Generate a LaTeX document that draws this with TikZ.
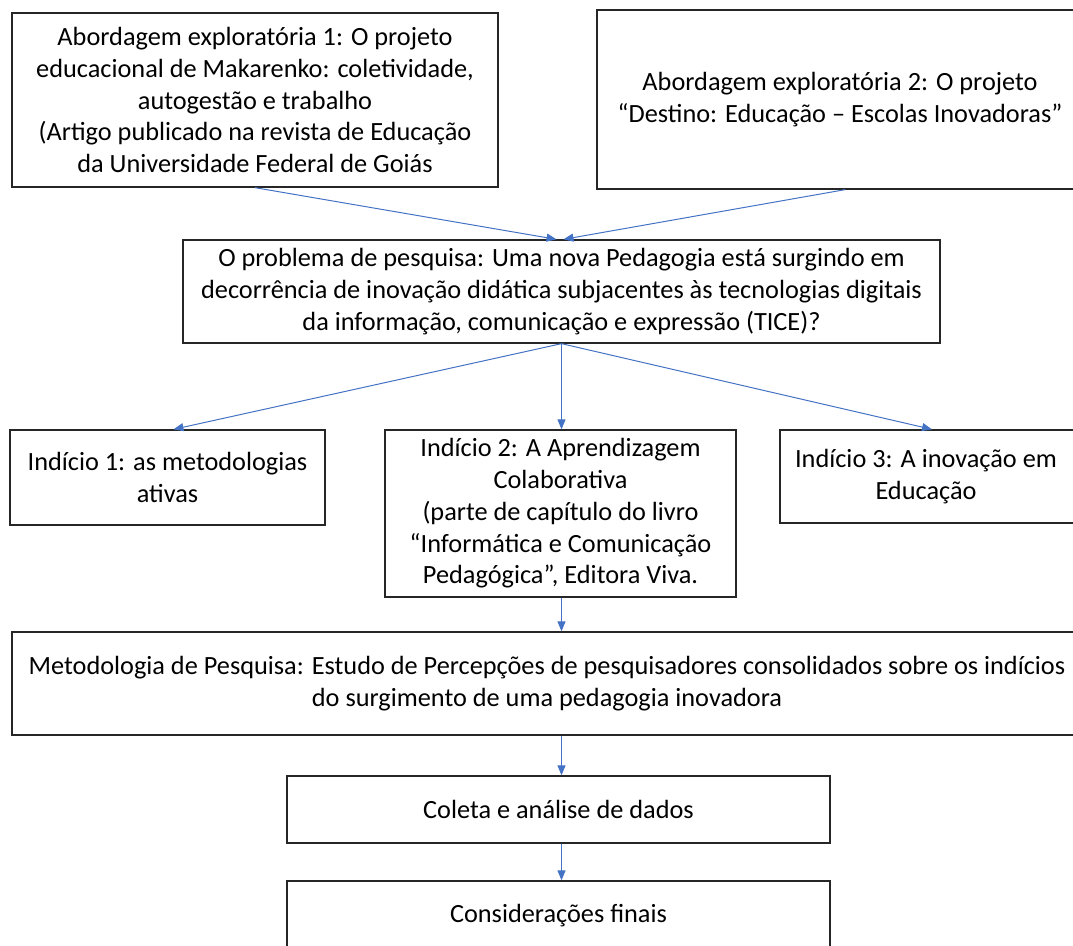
\documentclass[tikz,border=0pt]{standalone}
\usepackage{fontspec}
\setmainfont{Carlito}
\usetikzlibrary{arrows.meta,calc}
\definecolor{arrowblue}{RGB}{68,114,196}
\tikzset{
    box/.style={draw=black!85, line width=1.3pt, align=center, inner sep=0pt,
        font=\fontsize{26.3}{31.8}\selectfont},
    boxtext/.style={align=center, inner sep=0pt, font=\fontsize{26.3}{31.8}\selectfont},
    link/.style={arrowblue, line width=1pt, -{Triangle[length=10pt,width=8pt]}}
}
\begin{document}
\begin{tikzpicture}[x=1pt,y=-1pt]
    \useasboundingbox (0,0) rectangle (1073,945);

    \node[box, minimum width=486pt, minimum height=174pt] (abord1) at (255,100)
        {Abordagem exploratória 1: O projeto\\educacional de Makarenko: coletividade,\\autogestão e trabalho\\(Artigo publicado na revista de Educação\\da Universidade Federal de Goiás};
    \node[box, minimum width=510pt, minimum height=179pt,
        label={[boxtext, xshift=-12pt]center:{Abordagem exploratória 2: O projeto\\“Destino: Educação – Escolas Inovadoras”}}] (abord2) at (852,99.5) {};
    \node[box, minimum width=757pt, minimum height=103pt] (prob) at (561.5,291.5)
        {O problema de pesquisa: Uma nova Pedagogia está surgindo em\\decorrência de inovação didática subjacentes às tecnologias digitais\\da informação, comunicação e expressão (TICE)?};

    \node[box, minimum width=315pt, minimum height=95pt] (ind1) at (167.5,477.5)
        {Indício 1: as metodologias\\ativas};
    \node[box, minimum width=351pt, minimum height=167pt] (ind2) at (560.5,513.5)
        {Indício 2: A Aprendizagem\\Colaborativa\\(parte de capítulo do livro\\“Informática e Comunicação\\Pedagógica”, Editora Viva.};
    \node[box, minimum width=310pt, minimum height=93pt,
        label={[boxtext, xshift=-9pt]center:{Indício 3: A inovação em\\Educação}}] (ind3) at (935,476.5) {};

    \node[box, minimum width=1090pt, minimum height=103pt,
        label={[boxtext, xshift=-10pt]center:{Metodologia de Pesquisa: Estudo de Percepções de pesquisadores consolidados sobre os indícios\\do surgimento de uma pedagogia inovadora}}] (metod) at (557,683.5) {};
    \node[box, minimum width=543pt, minimum height=67pt] (coleta) at (558.5,809.5)
        {Coleta e análise de dados};
    \node[box, minimum width=543pt, minimum height=70pt] (consid) at (558.5,916)
        {Considerações finais};

    \coordinate (pb) at (prob.south);

    \draw[link] (abord1.south) -- ($(prob.north)+(-5,0)$);
    \draw[link] ($(abord2.south)+(-7,0)$) -- ($(prob.north)+(2,0)$);

    \draw[link] (pb) -- ($(ind1.north)+(6,0)$);
    \draw[link] (pb) -- (pb |- ind2.north);
    \draw[link] (pb) -- ($(ind3.north)+(-3,0)$);

    \draw[link] (pb |- ind2.south) -- (pb |- metod.north);
    \draw[link] (pb |- metod.south) -- (pb |- coleta.north);
    \draw[link] (pb |- coleta.south) -- (pb |- consid.north);
\end{tikzpicture}
\end{document}
